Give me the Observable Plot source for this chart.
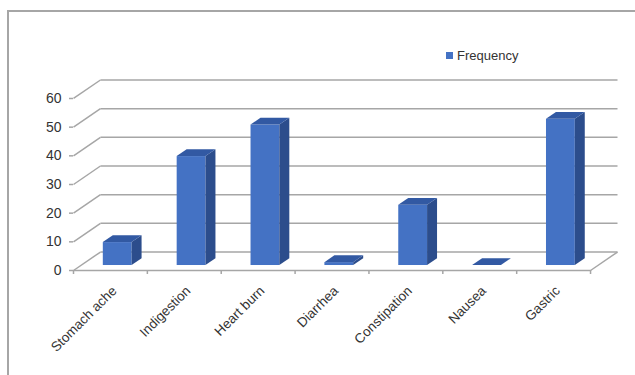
<!DOCTYPE html>
<html>
<head>
<meta charset="utf-8">
<script src="https://cdn.jsdelivr.net/npm/d3@7"></script>
<script src="https://cdn.jsdelivr.net/npm/@observablehq/plot@0.6"></script>
<style>
  html, body { margin: 0; padding: 0; background: #fff; }
  #wrap { position: relative; width: 635px; height: 375px; overflow: hidden; font-family: "Liberation Sans", Arial, sans-serif; }
  #border { position: absolute; left: 7px; top: 10px; width: 700px; height: 400px; border-left: 2px solid #a6a6a6; border-top: 2px solid #a6a6a6; }
  #chart { position: absolute; left: 0; top: 0; }
  #legend { position: absolute; left: 446px; top: 48px; display: flex; align-items: center; font-size: 13px; color: #333; }
  #legend .sw { width: 7px; height: 7px; background: #4472c4; margin-right: 4px; }
</style>
</head>
<body>
<div id="wrap">
  <div id="border"></div>
  <div id="chart"></div>
  <div id="legend"><span class="sw"></span><span id="legendText"></span></div>
</div>
<script>
// ---- data ----
const categories = ["Stomach ache", "Indigestion", "Heart burn", "Diarrhea", "Constipation", "Nausea", "Gastric"];
const frequency = [8, 38, 49, 1, 21, 0, 51];
const yTicks = [0, 10, 20, 30, 40, 50, 60];
const seriesName = "Frequency";

// ---- 3D geometry (in data units) ----
const N = categories.length;
const DX = 0.365;   // depth offset along x (category units)
const DY = 6.45;    // depth offset along y (value units)
const f0 = 0.27, f1 = 0.64; // bar front/back depth fraction
const hw = 0.195;   // half bar width

const bars = categories.map((c, i) => ({i, c, v: frequency[i]}));
const sideFaces = [], topFaces = [];
for (const b of bars) {
  const xl = b.i + 0.5 - hw + f0 * DX, xr = b.i + 0.5 + hw + f0 * DX;
  const dd = (f1 - f0) * DX;
  sideFaces.push({i: b.i, x: xr, y1: f0 * DY, y2: b.v + f0 * DY});
  sideFaces.push({i: b.i, x: xr + dd, y1: f1 * DY, y2: b.v + f1 * DY});
  topFaces.push({i: b.i, y: b.v + f0 * DY, x1: xl, x2: xr});
  topFaces.push({i: b.i, y: b.v + f1 * DY, x1: xl + dd, x2: xr + dd});
}

const grid = "#a6a6a6";
const textColor = "#333333";

const chart = Plot.plot({
  width: 635,
  height: 375,
  marginLeft: 73,
  marginRight: 18,
  marginTop: 79.5,
  marginBottom: 105,
  style: {background: "transparent", fontFamily: "'Liberation Sans', Arial, sans-serif", color: textColor, overflow: "visible"},
  x: {domain: [0, N + DX], axis: null},
  y: {domain: [0, 60 + DY], axis: null},
  marks: [
    // left wall diagonals
    Plot.link(yTicks, {x1: () => 0, y1: d => d, x2: () => DX, y2: d => d + DY, stroke: grid, strokeWidth: 1.5}),
    // back wall gridlines
    Plot.link(yTicks, {x1: () => DX, y1: d => d + DY, x2: () => N + DX, y2: d => d + DY, stroke: grid, strokeWidth: 1.5}),
    // floor front and right edges
    Plot.link([0], {x1: () => 0, y1: () => 0, x2: () => N, y2: () => 0, stroke: grid, strokeWidth: 1.5}),
    Plot.link([0], {x1: () => N, y1: () => 0, x2: () => N + DX, y2: () => DY, stroke: grid, strokeWidth: 1.5}),
    // axes
    Plot.axisY({ticks: yTicks, tickSize: 4, tickPadding: 8, fontSize: 14, stroke: grid, strokeWidth: 1.5, color: textColor}),
    Plot.axisX({ticks: d3.range(N + 1), tickSize: 4, tickFormat: () => "", stroke: grid, strokeWidth: 1.5}),
    // bars
    Plot.rect(bars, {x1: d => d.i + 0.5 - hw + f0 * DX, x2: d => d.i + 0.5 + hw + f0 * DX, y1: () => f0 * DY, y2: d => d.v + f0 * DY, fill: "#4472c4"}),
    Plot.areaY(sideFaces, {x: "x", y1: "y1", y2: "y2", z: "i", fill: "#2c4d8c"}),
    Plot.areaX(topFaces, {y: "y", x1: "x1", x2: "x2", z: "i", fill: "#3259a3"}),
    // category labels
    Plot.text(categories, {x: (d, i) => i + 0.5, y: () => 0, text: d => d, rotate: -45, textAnchor: "end", dx: 4, dy: 18, fontSize: 13.5, fill: textColor})
  ]
});
document.getElementById("chart").appendChild(chart);
document.getElementById("legendText").textContent = seriesName;
</script>
</body>
</html>
